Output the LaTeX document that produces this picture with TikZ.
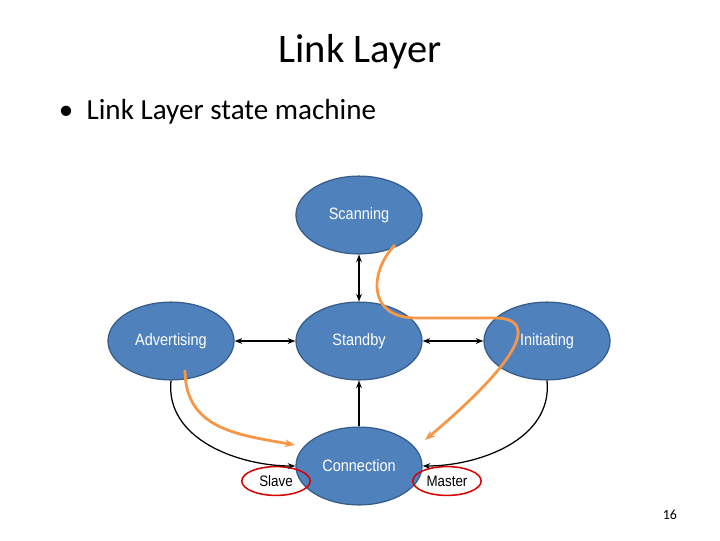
\documentclass[tikz,border=0pt]{standalone}
\usepackage{fontspec}
\setmainfont{Carlito}
\newfontfamily\statefont{Liberation Sans}[FakeStretch=0.88]
\usetikzlibrary{positioning,arrows.meta,shapes.geometric}
\definecolor{stfill}{HTML}{4F81BD}
\definecolor{stline}{HTML}{385D8A}
\definecolor{hilite}{HTML}{F79646}
\begin{document}
\begin{tikzpicture}
                [x=0.01389cm, y=-0.01389cm,
                 state/.style = {ellipse, minimum width=1.75cm, minimum height=1.08cm, inner sep=0pt, draw=stline, line width=0.5pt, fill=stfill, text=white, font=\statefont\fontsize{6.5}{8}\selectfont},
                 link/.style = {-{Stealth[length=3pt]}, line width=0.5pt},
                 path/.style = {-{Stealth[length=4pt]}, hilite, line width=1.1pt},
                 role/.style = {draw=red!85!black, line width=0.6pt, ellipse, minimum width=0.95cm, minimum height=0.4cm, inner sep=0pt, font=\statefont\fontsize{6}{7}\selectfont}]
                \useasboundingbox (0,0) rectangle (720,540);
                % Titles
                \node (title) at (360,52) {\fontsize{16}{19}\selectfont Link Layer};
                \node[anchor=west] (bullet) at (50,112) {\fontsize{11.5}{14}\selectfont \textbullet\ \ Link Layer state machine};
                \node (page) at (670,515) {\fontsize{5.5}{6}\selectfont 16};
                % States
                \node[state] (scan) at (359,215) {Scanning};
                \node[state] (stby) at (359,341) {Standby};
                \node[state] (adv) at (171,341) {Advertising};
                \node[state] (init) at (547,341) {Initiating};
                \node[state] (conn) at (359,466) {};
                \node[text=white, font=\statefont\fontsize{6.5}{8}\selectfont] (connl) at (359,466) {Connection};
                % Roles
                \node[role] (slave) at (276,481) {Slave};
                \node[role] (master) at (447,481) {Master};
                % Transitions
                \draw[link, {Stealth[length=3pt]}-{Stealth[length=3pt]}] (scan) -- (stby);
                \draw[link, {Stealth[length=3pt]}-{Stealth[length=3pt]}] (adv) -- (stby);
                \draw[link, {Stealth[length=3pt]}-{Stealth[length=3pt]}] (stby) -- (init);
                \draw[link] (conn) -- (stby);
                \draw[link] (adv.south) .. controls (165,440) and (240,466) .. (conn.west);
                \draw[link] (init.south) .. controls (553,440) and (478,466) .. (conn.east);
                % Highlighted paths
                \coordinate (p1) at (395,245);
                \coordinate (p2) at (425,440);
                \coordinate (q1) at (185,370);
                \coordinate (q2) at (295,445);
                \draw[path] (p1) .. controls (370,270) and (365,320) .. (420,318)
                    -- (495,318) .. controls (540,318) and (520,360) .. (p2);
                \draw[path] (q1) .. controls (185,430) and (240,435) .. (q2);
            \end{tikzpicture}
\end{document}
